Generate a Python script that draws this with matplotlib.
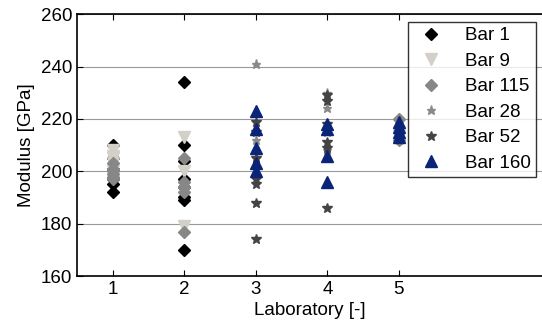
import numpy as np
import matplotlib
matplotlib.use("Agg")
import matplotlib.pyplot as plt

plt.rcParams["font.family"] = ["Liberation Sans", "DejaVu Sans"]

# values (lab number, modulus in GPa)
bar1_lab = [1, 1, 1, 1, 1, 1, 2, 2, 2, 2, 2, 2, 2, 2]
bar1_val = [210, 205, 201, 197, 195, 192, 234, 210, 204, 197, 194, 190, 189, 170]

bar9_lab = [1, 1, 1, 1, 1, 2, 2, 2, 5]
bar9_val = [208, 206, 205, 203, 200, 213, 200, 179, 214]

bar115_lab = [1, 1, 1, 1, 1, 1, 2, 2, 2, 2, 2, 5, 5]
bar115_val = [203, 201, 200, 199, 198, 197, 205, 196, 194, 192, 177, 220, 212]

bar28_lab = [3, 3, 3, 4, 4, 4, 4, 5, 5]
bar28_val = [241, 212, 205, 230, 224, 215, 208, 219, 212]

bar52_lab = [3, 3, 3, 3, 3, 3, 3, 4, 4, 4, 4, 4, 4, 5]
bar52_val = [219, 215, 205, 197, 195, 188, 174, 229, 227, 218, 211, 209, 186, 214]

bar160_lab = [3, 3, 3, 3, 3, 4, 4, 4, 4, 5, 5, 5, 5]
bar160_val = [223, 216, 209, 203, 200, 218, 216, 206, 196, 219, 217, 215, 213]

fig = plt.figure(figsize=(5.42, 3.29), dpi=100)
ax = fig.add_axes([0.142, 0.161, 0.858, 0.796])

ax.plot(bar1_lab, bar1_val, "D", color="black", ms=6, label="Bar 1")
ax.plot(bar9_lab, bar9_val, "v", color="#d3d0c8", ms=9, label="Bar 9")
ax.plot(bar115_lab, bar115_val, "D", color="#878787", ms=6, label="Bar 115")
ax.plot(bar28_lab, bar28_val, "*", color="#8a8a8a", ms=6.5, label="Bar 28")
ax.plot(bar52_lab, bar52_val, "*", color="#444444", ms=7.5, label="Bar 52")
ax.plot(bar160_lab, bar160_val, "^", color="#0a2478", ms=9, label="Bar 160")

ax.set_xlim(0.5, 7.0)
ax.set_ylim(160, 260)
ax.set_xticks([1, 2, 3, 4, 5])
ax.set_yticks([160, 180, 200, 220, 240, 260])
ax.yaxis.grid(True, color="#999999", lw=0.8)
ax.set_axisbelow(True)
ax.tick_params(direction="in", top=True, right=False, labelsize=13.5, length=4)
ax.spines["right"].set_visible(False)
for s in ["left", "top", "bottom"]:
    ax.spines[s].set_linewidth(1.2)

ax.set_xlabel("Laboratory [-]", fontsize=13.5, labelpad=3)
ax.set_ylabel("Modulus [GPa]", fontsize=13.5, labelpad=4)

leg = ax.legend(loc="upper left", bbox_to_anchor=(0.712, 0.969), fontsize=13.5,
                frameon=True, fancybox=False, edgecolor="black",
                borderaxespad=0, borderpad=0.25, labelspacing=0.45,
                handletextpad=0.9, handlelength=1.9)
leg.get_frame().set_linewidth(1.0)

plt.savefig("out.png", dpi=100)
